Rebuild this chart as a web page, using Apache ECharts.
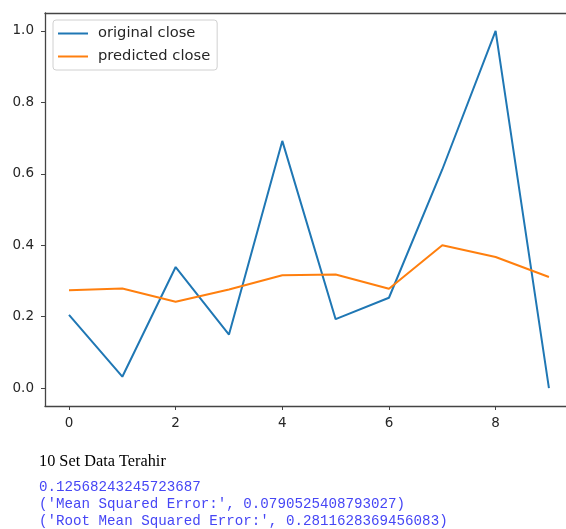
<!DOCTYPE html>
<html>
<head>
<meta charset="utf-8">
<script src="https://cdn.jsdelivr.net/npm/echarts@6/dist/echarts.min.js"></script>
<style>
  html, body { margin: 0; padding: 0; background: #fff; }
  #chart { width: 566px; height: 529px; }
</style>
</head>
<body>
<div id="chart"></div>
<script>
  // values
  var xs = [0, 1, 2, 3, 4, 5, 6, 7, 8, 9];
  var originalClose = [0.205, 0.032, 0.339, 0.150, 0.692, 0.193, 0.253, 0.612, 1.0, 0.0];
  var predictedClose = [0.274, 0.279, 0.242, 0.276, 0.316, 0.318, 0.278, 0.400, 0.367, 0.311];
  var xTicks = [0, 2, 4, 6, 8];
  var yTicks = [0, 0.2, 0.4, 0.6, 0.8, 1.0];
  var outputLines = [
    '0.12568243245723687',
    "('Mean Squared Error:', 0.0790525408793027)",
    "('Root Mean Squared Error:', 0.2811628369456083)"
  ];

  function pairs(ys) {
    return xs.map(function (x, i) { return [x, ys[i]]; });
  }

  var axisColor = '#444';
  var labelStyle = { color: '#262626', fontFamily: 'DejaVu Sans', fontSize: 13.5 };
  // the plot runs past the right edge of the window, so the x range is cut at 566px
  var xMin = -0.45, xMax = 9.32;

  var chart = echarts.init(document.getElementById('chart'));
  chart.setOption({
    animation: false,
    grid: { left: 45, top: 13, bottom: 123, right: 0 },
    xAxis: [{
      type: 'value',
      min: xMin, max: xMax,
      splitLine: { show: false },
      axisLine: { show: true, onZero: false, lineStyle: { color: axisColor, width: 1.3 } },
      axisTick: { show: true, inside: false, customValues: xTicks, length: 4, lineStyle: { color: axisColor } },
      axisLabel: Object.assign({ customValues: xTicks, margin: 10 }, labelStyle)
    }, {
      type: 'value', position: 'top',
      min: xMin, max: xMax,
      splitLine: { show: false },
      axisLine: { show: true, onZero: false, lineStyle: { color: axisColor, width: 1.3 } },
      axisTick: { show: false },
      axisLabel: { show: false }
    }],
    yAxis: {
      type: 'value',
      min: -0.05, max: 1.05,
      splitLine: { show: false },
      axisLine: { show: true, onZero: false, lineStyle: { color: axisColor, width: 1.3 } },
      axisTick: { show: true, inside: false, customValues: yTicks, length: 4, lineStyle: { color: axisColor } },
      axisLabel: Object.assign({
        customValues: yTicks, margin: 11,
        formatter: function (v) { return v.toFixed(1); }
      }, labelStyle)
    },
    legend: {
      left: 53, top: 20,
      orient: 'vertical',
      itemWidth: 30, itemHeight: 2, itemGap: 8,
      icon: 'rect',
      padding: [6, 7, 6, 5],
      borderColor: '#d0d0d0', borderWidth: 1, borderRadius: 3,
      backgroundColor: '#fff',
      textStyle: { color: '#262626', fontFamily: 'DejaVu Sans', fontSize: 14.7, padding: [0, 0, 0, 5] },
      data: ['original close', 'predicted close']
    },
    series: [
      {
        name: 'original close', type: 'line', data: pairs(originalClose),
        showSymbol: false, symbol: 'none',
        lineStyle: { color: '#1f77b4', width: 2 }, itemStyle: { color: '#1f77b4' }
      },
      {
        name: 'predicted close', type: 'line', data: pairs(predictedClose),
        showSymbol: false, symbol: 'none',
        lineStyle: { color: '#ff7f0e', width: 2 }, itemStyle: { color: '#ff7f0e' }
      }
    ],
    graphic: [
      {
        type: 'text', x: 39, y: 462,
        style: { text: '10 Set Data Terahir', fill: '#000', font: '16.3px "Liberation Serif"', verticalAlign: 'middle' }
      }
    ].concat(outputLines.map(function (t, i) {
      return {
        type: 'text', x: 39, y: 487 + i * 17,
        style: { text: t, fill: '#4646f5', font: '14.2px "Liberation Mono"', verticalAlign: 'middle' }
      };
    }))
  });
</script>
</body>
</html>
